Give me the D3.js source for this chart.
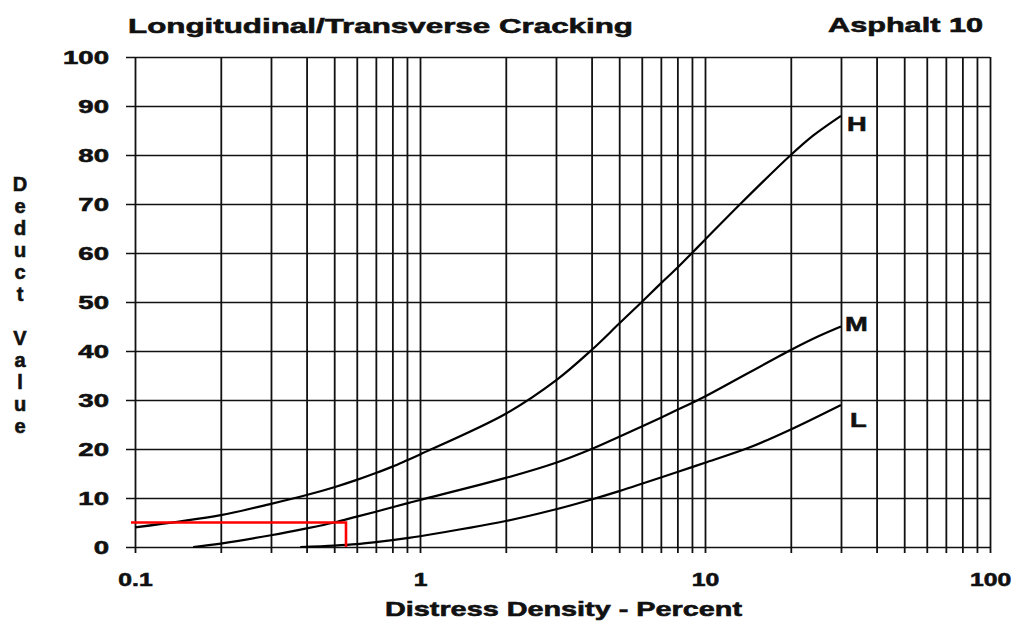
<!DOCTYPE html>
<html>
<head>
<meta charset="utf-8">
<script src="https://cdn.jsdelivr.net/npm/d3@7"></script>
<style>
  html, body { margin: 0; padding: 0; background: #fff; }
  svg { display: block; }
  text { font-family: "Liberation Sans", Arial, sans-serif; font-weight: bold; fill: #111; stroke: #111; stroke-width: 0.6px; }
</style>
</head>
<body>
<svg id="chart" width="1022" height="628"></svg>
<script>
// ---- data ----
const titleText = "Longitudinal/Transverse Cracking";
const subTitleText = "Asphalt 10";
const xTitle = "Distress Density - Percent";
const yTitle = "Deduct Value";

const xGridValues = [0.1,0.2,0.3,0.4,0.5,0.6,0.7,0.8,0.9,1,2,3,4,5,6,7,8,9,10,20,30,40,50,60,70,80,90,100];
const xTickLabels = [0.1, 1, 10, 100];
const yTickValues = [0,10,20,30,40,50,60,70,80,90,100];

const hDensity = [0.1,0.2,0.3,0.4,0.5,0.6,0.7,0.8,0.9,1,2,3,4,5,6,7,8,9,10,13.3,20,24,30];
const hValues  = [4,6.5,8.8,10.6,12.2,13.7,15.1,16.4,17.7,18.9,27.2,34,40.2,45.6,50,53.8,57,60,62.7,70,80,84,88];

const mDensity = [0.16,0.2,0.3,0.4,0.5,0.6,0.7,0.8,0.9,1,2,3,4,5,6,7,8,9,10,20,25,30];
const mValues  = [0,0.7,2.4,3.8,5,6.2,7.2,8.1,8.9,9.6,14.1,17.2,20,22.5,24.6,26.4,28,29.4,30.7,40.2,43,45];

const lDensity = [0.38,0.5,0.6,0.7,0.8,0.9,1,2,3,4,5,6,7,8,9,10,14.3,20,30];
const lValues  = [0,0.3,0.6,1.0,1.4,1.8,2.2,5.3,7.7,9.7,11.4,12.9,14.2,15.3,16.3,17.2,20.3,24,29];

const seriesNames = ["H","M","L"];
const readDensity = [0.1, 0.55];   // red reading line: from axis to curve
const readValue = 5;

// ---- layout ----
const svg = d3.select("#chart");
const x = d3.scaleLog().domain([0.1, 100]).range([135, 990]);
const y = d3.scaleLinear().domain([0, 100]).range([547, 57]);

function stretch(sel, factor) {
  sel.each(function() {
    const n = this.getComputedTextLength();
    d3.select(this).attr("textLength", n * factor).attr("lengthAdjust", "spacingAndGlyphs");
  });
}

// vertical grid (x axis ticks as grid)
const xGrid = svg.append("g")
  .attr("transform", `translate(0,${y(0) + 6})`)
  .call(d3.axisBottom(x).tickValues(xGridValues).tickSizeInner(-(y(0) + 6 - y(100))).tickSizeOuter(0).tickFormat(""));
xGrid.select(".domain").remove();
xGrid.selectAll(".tick line").attr("stroke", "#111").attr("stroke-width", 1.8);

// horizontal grid
const yGrid = svg.append("g")
  .attr("transform", `translate(${x(0.1) - 9},0)`)
  .call(d3.axisLeft(y).tickValues(yTickValues).tickSizeInner(-(x(100) - x(0.1) + 9)).tickSizeOuter(0).tickPadding(17).tickFormat(d3.format("d")));
yGrid.select(".domain").remove();
yGrid.selectAll(".tick line").attr("stroke", "#111").attr("stroke-width", 1.7);
yGrid.selectAll(".tick text")
  .attr("font-size", 19).attr("fill", "#111")
  .attr("font-family", "Liberation Sans, Arial, sans-serif").attr("font-weight", "bold")
  .attr("dy", "0.36em")
  .call(stretch, 1.45);

// x tick labels
const xLab = svg.append("g")
  .attr("transform", `translate(0,${y(0)})`)
  .call(d3.axisBottom(x).tickValues(xTickLabels).tickSize(0).tickPadding(26).tickFormat(d => String(d)));
xLab.select(".domain").remove();
xLab.selectAll(".tick text")
  .attr("font-size", 19).attr("fill", "#111")
  .attr("font-family", "Liberation Sans, Arial, sans-serif").attr("font-weight", "bold")
  .call(stretch, 1.3);

// curves
const line = d3.line().x(d => x(d[0])).y(d => y(d[1])).curve(d3.curveCatmullRom.alpha(0.5));
const series = [
  {name: "H", pts: d3.zip(hDensity, hValues)},
  {name: "M", pts: d3.zip(mDensity, mValues)},
  {name: "L", pts: d3.zip(lDensity, lValues)}
];
svg.append("g").selectAll("path").data(series).join("path")
  .attr("d", d => line(d.pts))
  .attr("fill", "none").attr("stroke", "#000").attr("stroke-width", 2.2);

// curve labels (vertical offset from the curve end, per label)
const labelDy = {H: 15, M: 4, L: 22};
const labelDx = {H: 6, M: 4, L: 9};
svg.append("g").selectAll("text").data(series).join("text")
  .attr("x", d => x(d.pts[d.pts.length - 1][0]) + labelDx[d.name])
  .attr("y", d => y(d.pts[d.pts.length - 1][1]) + labelDy[d.name])
  .attr("font-size", 21)
  .text((d, i) => seriesNames[i])
  .call(stretch, 1.3);

// red reading line
svg.append("path")
  .attr("d", d3.line()([[x(readDensity[0]) - 4, y(readValue)], [x(readDensity[1]), y(readValue)], [x(readDensity[1]), y(0)]]))
  .attr("fill", "none").attr("stroke", "#ff0000").attr("stroke-width", 2.6);

// titles
svg.append("text").attr("x", 128).attr("y", 33).attr("font-size", 21)
  .attr("textLength", 505).attr("lengthAdjust", "spacingAndGlyphs").text(titleText);
svg.append("text").attr("x", 828).attr("y", 32).attr("font-size", 21)
  .attr("textLength", 155).attr("lengthAdjust", "spacingAndGlyphs").text(subTitleText);
svg.append("text").attr("x", 385).attr("y", 616).attr("font-size", 21)
  .attr("textLength", 357).attr("lengthAdjust", "spacingAndGlyphs").text(xTitle);

// vertical stacked y title
const letters = yTitle.split("");
svg.append("g").selectAll("text").data(letters).join("text")
  .attr("x", 20)
  .attr("y", (d, i) => 191 + i * 22)
  .attr("text-anchor", "middle")
  .attr("font-size", 20)
  .text(d => d);
</script>
</body>
</html>
